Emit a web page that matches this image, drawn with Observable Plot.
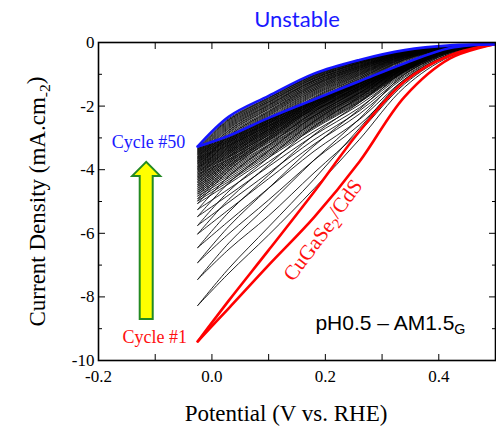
<!DOCTYPE html>
<html><head><meta charset="utf-8">
<script src="https://cdn.jsdelivr.net/npm/d3@7"></script>
<script src="https://cdn.jsdelivr.net/npm/@observablehq/plot@0.6"></script>
<style>
html,body{margin:0;padding:0;background:#fff;}
#chart svg{display:block;}
</style></head><body><div id="chart"></div>
<script>
// Potential grid (V vs. RHE) at which every sweep is sampled
const potential = [-0.025, 0.03, 0.1, 0.18, 0.26, 0.34, 0.42, 0.5];
// Current density at the cathodic turning point, cycle 1 .. 50
const tipCurrent = [-9.40, -8.27, -7.45, -6.92, -6.45, -6.02, -5.75, -5.47, -5.25, -5.06,
  -4.98, -4.91, -4.83, -4.76, -4.70, -4.64, -4.58, -4.52, -4.47, -4.41,
  -4.36, -4.31, -4.26, -4.22, -4.17, -4.13, -4.08, -4.04, -4.00, -3.96,
  -3.92, -3.89, -3.85, -3.81, -3.78, -3.74, -3.71, -3.67, -3.64, -3.61,
  -3.58, -3.54, -3.51, -3.48, -3.45, -3.42, -3.39, -3.36, -3.33, -3.27];
// Current density at the anodic end (0.5 V)
const endCurrent = -0.05;
// Outer (more cathodic) branch of each cycle at potentials 0.03 .. 0.42
const branchA = [
  [-8.35, -7.00, -5.50, -3.75, -1.70, -0.50],
  [-7.25, -6.05, -4.60, -3.05, -1.40, -0.44],
  [-6.50, -5.45, -4.10, -2.80, -1.30, -0.40],
  [-6.01, -4.95, -3.70, -2.59, -1.23, -0.37],
  [-5.61, -4.58, -3.42, -2.42, -1.16, -0.35],
  [-5.25, -4.28, -3.20, -2.25, -1.09, -0.32],
  [-5.02, -4.10, -3.06, -2.15, -1.05, -0.31],
  [-4.79, -3.90, -2.92, -2.05, -1.00, -0.29],
  [-4.60, -3.75, -2.80, -1.96, -0.97, -0.28],
  [-4.44, -3.62, -2.71, -1.89, -0.94, -0.27],
  [-4.37, -3.56, -2.67, -1.86, -0.92, -0.27],
  [-4.31, -3.51, -2.63, -1.84, -0.91, -0.26],
  [-4.25, -3.46, -2.59, -1.81, -0.90, -0.26],
  [-4.19, -3.41, -2.55, -1.78, -0.89, -0.25],
  [-4.14, -3.37, -2.52, -1.76, -0.88, -0.25],
  [-4.09, -3.32, -2.49, -1.74, -0.87, -0.25],
  [-4.04, -3.28, -2.46, -1.71, -0.86, -0.24],
  [-3.99, -3.24, -2.43, -1.69, -0.85, -0.24],
  [-3.94, -3.21, -2.40, -1.67, -0.84, -0.24],
  [-3.89, -3.16, -2.37, -1.65, -0.83, -0.23],
  [-3.85, -3.13, -2.35, -1.63, -0.82, -0.23],
  [-3.81, -3.09, -2.32, -1.61, -0.82, -0.23],
  [-3.77, -3.06, -2.30, -1.59, -0.81, -0.23],
  [-3.73, -3.03, -2.28, -1.58, -0.80, -0.22],
  [-3.69, -3.00, -2.25, -1.56, -0.79, -0.22],
  [-3.66, -2.97, -2.23, -1.54, -0.79, -0.22],
  [-3.61, -2.93, -2.21, -1.52, -0.78, -0.22],
  [-3.58, -2.91, -2.18, -1.51, -0.77, -0.21],
  [-3.55, -2.88, -2.16, -1.49, -0.77, -0.21],
  [-3.51, -2.85, -2.14, -1.48, -0.76, -0.21],
  [-3.48, -2.82, -2.12, -1.46, -0.75, -0.21],
  [-3.45, -2.80, -2.11, -1.45, -0.75, -0.20],
  [-3.42, -2.77, -2.09, -1.44, -0.74, -0.20],
  [-3.39, -2.75, -2.07, -1.42, -0.74, -0.20],
  [-3.36, -2.73, -2.05, -1.41, -0.73, -0.20],
  [-3.33, -2.70, -2.03, -1.40, -0.73, -0.20],
  [-3.30, -2.68, -2.02, -1.39, -0.72, -0.19],
  [-3.27, -2.65, -2.00, -1.37, -0.71, -0.19],
  [-3.24, -2.63, -1.98, -1.36, -0.71, -0.19],
  [-3.22, -2.61, -1.96, -1.35, -0.70, -0.19],
  [-3.19, -2.59, -1.95, -1.34, -0.70, -0.19],
  [-3.16, -2.56, -1.93, -1.32, -0.69, -0.19],
  [-3.13, -2.54, -1.91, -1.31, -0.69, -0.18],
  [-3.11, -2.52, -1.90, -1.30, -0.68, -0.18],
  [-3.08, -2.50, -1.88, -1.29, -0.68, -0.18],
  [-3.06, -2.47, -1.87, -1.28, -0.67, -0.18],
  [-3.03, -2.45, -1.85, -1.27, -0.67, -0.18],
  [-3.01, -2.43, -1.84, -1.25, -0.66, -0.17],
  [-2.98, -2.41, -1.82, -1.24, -0.66, -0.17],
  [-2.93, -2.37, -1.79, -1.22, -0.65, -0.17]
];
// Inner branch of each cycle at potentials 0.03 .. 0.42
const branchB = [
  [-8.11, -6.53, -4.70, -2.80, -1.22, -0.40],
  [-7.10, -5.80, -4.30, -2.70, -1.15, -0.37],
  [-6.30, -5.10, -3.70, -2.40, -1.00, -0.32],
  [-5.78, -4.58, -3.25, -2.10, -0.89, -0.29],
  [-5.33, -4.17, -2.90, -1.89, -0.80, -0.26],
  [-4.93, -3.84, -2.64, -1.71, -0.72, -0.24],
  [-4.67, -3.62, -2.48, -1.59, -0.68, -0.22],
  [-4.41, -3.41, -2.31, -1.47, -0.63, -0.21],
  [-4.20, -3.23, -2.18, -1.38, -0.59, -0.20],
  [-4.02, -3.08, -2.06, -1.30, -0.56, -0.19],
  [-3.94, -3.02, -2.01, -1.27, -0.54, -0.18],
  [-3.88, -2.97, -1.97, -1.24, -0.53, -0.18],
  [-3.80, -2.90, -1.92, -1.21, -0.52, -0.17],
  [-3.74, -2.85, -1.88, -1.18, -0.50, -0.17],
  [-3.68, -2.80, -1.84, -1.15, -0.49, -0.17],
  [-3.62, -2.75, -1.81, -1.13, -0.48, -0.16],
  [-3.57, -2.71, -1.77, -1.10, -0.47, -0.16],
  [-3.51, -2.66, -1.74, -1.08, -0.46, -0.16],
  [-3.46, -2.62, -1.71, -1.05, -0.45, -0.15],
  [-3.41, -2.57, -1.67, -1.03, -0.44, -0.15],
  [-3.36, -2.53, -1.64, -1.01, -0.43, -0.15],
  [-3.31, -2.50, -1.61, -0.99, -0.42, -0.15],
  [-3.27, -2.46, -1.58, -0.97, -0.41, -0.14],
  [-3.23, -2.43, -1.55, -0.95, -0.41, -0.14],
  [-3.18, -2.39, -1.52, -0.93, -0.40, -0.14],
  [-3.14, -2.35, -1.50, -0.91, -0.39, -0.14],
  [-3.10, -2.31, -1.47, -0.89, -0.38, -0.13],
  [-3.06, -2.28, -1.45, -0.87, -0.38, -0.13],
  [-3.02, -2.25, -1.42, -0.86, -0.37, -0.13],
  [-2.98, -2.22, -1.40, -0.84, -0.36, -0.13],
  [-2.94, -2.19, -1.37, -0.82, -0.35, -0.12],
  [-2.92, -2.17, -1.35, -0.81, -0.35, -0.12],
  [-2.88, -2.14, -1.33, -0.79, -0.34, -0.12],
  [-2.84, -2.10, -1.31, -0.78, -0.34, -0.12],
  [-2.81, -2.08, -1.29, -0.76, -0.33, -0.12],
  [-2.77, -2.05, -1.26, -0.75, -0.32, -0.12],
  [-2.75, -2.02, -1.25, -0.74, -0.32, -0.11],
  [-2.71, -1.99, -1.22, -0.72, -0.31, -0.11],
  [-2.68, -1.97, -1.20, -0.71, -0.31, -0.11],
  [-2.65, -1.95, -1.19, -0.69, -0.30, -0.11],
  [-2.62, -1.92, -1.17, -0.68, -0.30, -0.11],
  [-2.59, -1.89, -1.14, -0.66, -0.29, -0.11],
  [-2.56, -1.87, -1.13, -0.65, -0.28, -0.10],
  [-2.53, -1.85, -1.11, -0.64, -0.28, -0.10],
  [-2.50, -1.82, -1.09, -0.63, -0.27, -0.10],
  [-2.47, -1.80, -1.07, -0.61, -0.27, -0.10],
  [-2.44, -1.77, -1.05, -0.60, -0.26, -0.10],
  [-2.42, -1.75, -1.03, -0.59, -0.26, -0.10],
  [-2.39, -1.73, -1.02, -0.58, -0.25, -0.09],
  [-2.33, -1.68, -0.98, -0.55, -0.24, -0.09]
];
// Axis ticks
const xTicks = [-0.2, 0, 0.2, 0.4];
const xMinorTicks = [-0.1, 0.1, 0.3, 0.5];
const yTicks = [0, -2, -4, -6, -8, -10];
const yMinorTicks = [-1, -3, -5, -7, -9];
// Annotations
const cycleLabels = [
  {text: "Cycle #50", x: -0.047, y: -3.15, color: "#1a1aff"},
  {text: "Cycle #1", x: -0.044, y: -9.28, color: "#ff1010"}
];
const sampleLabel = {x: 0.197, y: -5.92, angle: -53};
const conditionLabel = {x: 0.1825, y: -8.82};
const arrow = {x: -0.115, from: -8.71, to: -3.77};

const COLORS = {first: "#ff0000", last: "#1414ff", other: "#000000"};

const rows = [];
tipCurrent.forEach((tip, c) => {
  [["A", branchA[c]], ["B", branchB[c]]].forEach(([b, vals]) => {
    const ys = [tip, ...vals, endCurrent];
    ys.forEach((v, i) => rows.push({cycle: c + 1, key: `${c + 1}${b}`, V: potential[i], J: v}));
  });
});
const black = rows.filter(d => d.cycle > 1 && d.cycle < 50);
const first = rows.filter(d => d.cycle === 1);
const last = rows.filter(d => d.cycle === 50);

const serif = "Liberation Serif";

const arrowMark = (index, scales) => {
  const cx = scales.x(arrow.x), yb = scales.y(arrow.from), yt = scales.y(arrow.to);
  const sw = 6.5, hw = 14, hh = 14;
  const d = `M${cx - sw},${yb}L${cx - sw},${yt + hh}L${cx - hw},${yt + hh}L${cx},${yt}L${cx + hw},${yt + hh}L${cx + sw},${yt + hh}L${cx + sw},${yb}Z`;
  const p = document.createElementNS("http://www.w3.org/2000/svg", "path");
  p.setAttribute("d", d);
  p.setAttribute("fill", "#ffff00");
  p.setAttribute("stroke", "#238a23");
  p.setAttribute("stroke-width", "2");
  return p;
};

const chart = Plot.plot({
  width: 496,
  height: 427,
  marginLeft: 98,
  marginRight: 1,
  marginTop: 42,
  marginBottom: 67,
  style: {fontFamily: serif, fontSize: "17px", background: "#fff", color: "#000"},
  x: {domain: [-0.2, 0.5]},
  y: {domain: [-10, 0]},
  marks: [
    Plot.line(black, {x: "V", y: "J", z: "key", stroke: COLORS.other, strokeWidth: 0.85, curve: "catmull-rom", clip: "frame"}),
    Plot.line(first, {x: "V", y: "J", z: "key", stroke: COLORS.first, strokeWidth: 2.6, curve: "catmull-rom", clip: "frame"}),
    Plot.line(last, {x: "V", y: "J", z: "key", stroke: COLORS.last, strokeWidth: 2.6, curve: "catmull-rom", clip: "frame"}),
    Plot.axisX({anchor: "bottom", ticks: xTicks, tickSize: 0, tickPadding: 9, tickFormat: d => d.toFixed(1), label: null}),
    Plot.axisX({anchor: "bottom", ticks: [...xTicks, ...xMinorTicks], tickSize: -6, fill: "none", tickFormat: () => "", label: null}),
    Plot.axisX({anchor: "top", ticks: [...xTicks, ...xMinorTicks], tickSize: -6, fill: "none", tickFormat: () => "", label: null}),
    Plot.axisY({anchor: "left", ticks: yTicks, tickSize: 0, tickPadding: 4, tickFormat: d => String(d), label: null}),
    Plot.axisY({anchor: "left", ticks: yTicks, tickSize: -7, fill: "none", tickFormat: () => "", label: null}),
    Plot.axisY({anchor: "left", ticks: yMinorTicks, tickSize: -4, fill: "none", tickFormat: () => "", label: null}),
    Plot.axisY({anchor: "right", ticks: yTicks, tickSize: -7, fill: "none", tickFormat: () => "", label: null}),
    Plot.axisY({anchor: "right", ticks: yMinorTicks, tickSize: -4, fill: "none", tickFormat: () => "", label: null}),
    Plot.frame({stroke: "#000", strokeWidth: 1.6}),
    arrowMark,
    Plot.text(cycleLabels, {x: "x", y: "y", text: "text", fill: "color", textAnchor: "end", fontSize: 18, fontFamily: serif}),
    Plot.text([sampleLabel], {x: "x", y: "y", text: () => "CuGaSe2/CdS", rotate: sampleLabel.angle, fill: "#ff1010", fontSize: 21, fontFamily: serif}),
    Plot.text([conditionLabel], {x: "x", y: "y", text: () => "pH0.5 – AM1.5G", textAnchor: "start", fill: "#000", fontSize: 21, fontFamily: "Liberation Sans"}),
    Plot.text(["Unstable"], {frameAnchor: "top", lineAnchor: "middle", dy: -23, fill: "#1a1aff", fontSize: 22, fontFamily: "Lato"}),
    Plot.text(["Potential (V vs. RHE)"], {frameAnchor: "bottom", lineAnchor: "middle", textAnchor: "middle", dx: -11, dy: 53, fontSize: 23, fontFamily: serif}),
    Plot.text(["Current Density (mA.cm-2)"], {frameAnchor: "left", lineAnchor: "middle", textAnchor: "middle", dx: -61, rotate: -90, fontSize: 23, fontFamily: serif})
  ]
});
document.getElementById("chart").appendChild(chart);

// rich text with subscripts
function rich(content, parts) {
  const t = d3.select(chart).selectAll("text").filter(function () { return this.textContent === content; });
  t.text(null);
  let prevSub = false;
  parts.forEach(([s, sub]) => {
    const ts = t.append("tspan").text(s);
    if (sub) { ts.attr("dy", "0.3em").attr("font-size", "68%"); prevSub = true; }
    else if (prevSub) { ts.attr("dy", "-0.3em"); prevSub = false; }
  });
}
rich("CuGaSe2/CdS", [["CuGaSe", false], ["2", true], ["/CdS", false]]);
rich("pH0.5 – AM1.5G", [["pH0.5 – AM1.5", false], ["G", true]]);
rich("Current Density (mA.cm-2)", [["Current Density (mA.cm", false], ["-2", true], [")", false]]);
</script></body></html>
